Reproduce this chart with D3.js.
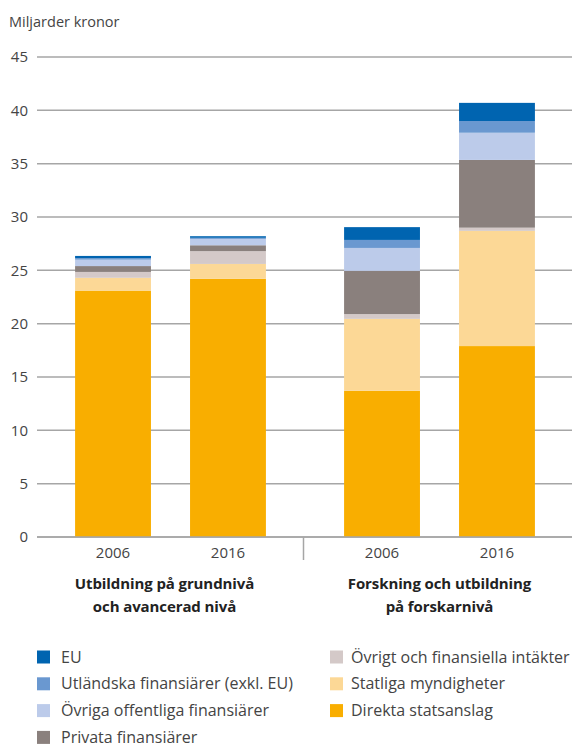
<!DOCTYPE html>
<html>
<head>
<meta charset="utf-8">
<script src="https://cdn.jsdelivr.net/npm/d3@7"></script>
<style>
  body { margin: 0; background: #fff; }
  svg { display: block; font-family: "Open Sans", "DejaVu Sans", sans-serif; }
</style>
</head>
<body>
<div id="chart"></div>
<script>
// data (miljarder kronor)
const groups = ['Utbildning på grundnivå|och avancerad nivå', 'Forskning och utbildning|på forskarnivå'];
const years = ['2006', '2016'];
const seriesNames = [
  'Direkta statsanslag',
  'Statliga myndigheter',
  'Övrigt och finansiella intäkter',
  'Privata finansiärer',
  'Övriga offentliga finansiärer',
  'Utländska finansiärer (exkl. EU)',
  'EU'
];
const colors = ['#f9ae00', '#fcd896', '#d4c9c8', '#8a807d', '#bccbea', '#6a98d0', '#0064b0'];
// one value per bar: grund 2006, grund 2016, forsk 2006, forsk 2016
const direkta   = [23.1, 24.2, 13.7, 17.9];
const statliga  = [1.2, 1.4, 6.75, 10.8];
const ovrigt    = [0.55, 1.2, 0.45, 0.3];
const privata   = [0.55, 0.55, 4.05, 6.35];
const offentl   = [0.6, 0.6, 2.15, 2.55];
const utlandska = [0.15, 0.1, 0.75, 1.1];
const eu        = [0.2, 0.15, 1.2, 1.7];
const yTicks = [0, 5, 10, 15, 20, 25, 30, 35, 40, 45];
const legendCol1 = ['EU', 'Utländska finansiärer (exkl. EU)', 'Övriga offentliga finansiärer', 'Privata finansiärer'];
const legendCol2 = ['Övrigt och finansiella intäkter', 'Statliga myndigheter', 'Direkta statsanslag'];

const width = 575;
const height = 747;
const margin = { top: 57, left: 37, right: 3, bottom: 210 };

const rows = direkta.map((d, i) => {
  const vals = [direkta[i], statliga[i], ovrigt[i], privata[i], offentl[i], utlandska[i], eu[i]];
  const o = { group: groups[Math.floor(i / 2)], year: years[i % 2] };
  seriesNames.forEach((s, j) => o[s] = vals[j]);
  return o;
});
const stacked = d3.stack().keys(seriesNames)(rows);

const svg = d3.select('#chart')
  .append('svg')
  .attr('width', width)
  .attr('height', height);

const y = d3.scaleLinear()
  .domain([0, 45])
  .range([height - margin.bottom, margin.top]);

const x0 = d3.scaleBand()
  .domain(groups)
  .range([36, 574])
  .padding(0);

const x1 = d3.scaleBand()
  .domain(years)
  .range([0, x0.bandwidth()])
  .padding(0.34);

// unit label
svg.append('text')
  .attr('x', 9)
  .attr('y', 27)
  .attr('font-size', 14.5)
  .attr('fill', '#444')
  .text('Miljarder kronor');

// grid + y labels
const yAxis = svg.append('g');
yAxis.selectAll('line')
  .data(yTicks)
  .join('line')
    .attr('x1', margin.left)
    .attr('x2', width - margin.right)
    .attr('y1', d => y(d))
    .attr('y2', d => y(d))
    .attr('stroke', '#a6a6a6')
    .attr('stroke-width', 1.5);
yAxis.selectAll('text')
  .data(yTicks)
  .join('text')
    .attr('x', 28)
    .attr('y', d => y(d))
    .attr('dy', '0.35em')
    .attr('text-anchor', 'end')
    .attr('font-size', 15)
    .attr('fill', '#444')
    .text(d => d);

// bars
svg.append('g')
  .selectAll('g')
  .data(stacked)
  .join('g')
    .attr('fill', (d, i) => colors[i])
  .selectAll('rect')
  .data(d => d)
  .join('rect')
    .attr('x', d => x0(d.data.group) + x1(d.data.year))
    .attr('y', d => y(d[1]))
    .attr('height', d => y(d[0]) - y(d[1]))
    .attr('width', x1.bandwidth());

// baseline over bars
svg.append('line')
  .attr('x1', margin.left)
  .attr('x2', width - margin.right)
  .attr('y1', y(0))
  .attr('y2', y(0))
  .attr('stroke', '#a6a6a6')
  .attr('stroke-width', 1.5);

// divider between groups
svg.append('line')
  .attr('x1', x0(groups[1]) - 1.5)
  .attr('x2', x0(groups[1]) - 1.5)
  .attr('y1', y(0))
  .attr('y2', y(0) + 23)
  .attr('stroke', '#a6a6a6')
  .attr('stroke-width', 1.5);

// year + group labels
const xLabels = svg.append('g');
groups.forEach((g, gi) => {
  years.forEach(yr => {
    xLabels.append('text')
      .attr('x', x0(g) + x1(yr) + x1.bandwidth() / 2)
      .attr('y', y(0) + 21)
      .attr('text-anchor', 'middle')
      .attr('font-size', 15)
      .attr('fill', '#444')
      .text(yr);
  });
  const cx = x0(g) + x0.bandwidth() / 2 - (gi === 0 ? 6 : 0);
  const t = xLabels.append('text')
    .attr('y', y(0) + 52)
    .attr('text-anchor', 'middle')
    .attr('font-size', 15)
    .attr('font-weight', 'bold')
    .attr('letter-spacing', '-0.1px')
    .attr('fill', '#222');
  g.split('|').forEach((l, i) => {
    t.append('tspan')
      .attr('x', cx)
      .attr('dy', i === 0 ? 0 : 23)
      .text(l);
  });
});

// legend
function legendColumn(names, lx, tx, ly) {
  const item = svg.append('g')
    .selectAll('g')
    .data(names)
    .join('g')
      .attr('transform', (d, i) => `translate(0,${ly + i * 26.8})`);
  item.append('rect')
    .attr('x', lx)
    .attr('y', -6.5)
    .attr('width', 13)
    .attr('height', 13)
    .attr('fill', d => colors[seriesNames.indexOf(d)]);
  item.append('text')
    .attr('x', tx)
    .attr('y', 0)
    .attr('dy', '0.35em')
    .attr('font-size', 16)
    .attr('fill', '#444')
    .text(d => d);
}
legendColumn(legendCol1, 37, 61, 657);
legendColumn(legendCol2, 330, 351, 657);
</script>
</body>
</html>
